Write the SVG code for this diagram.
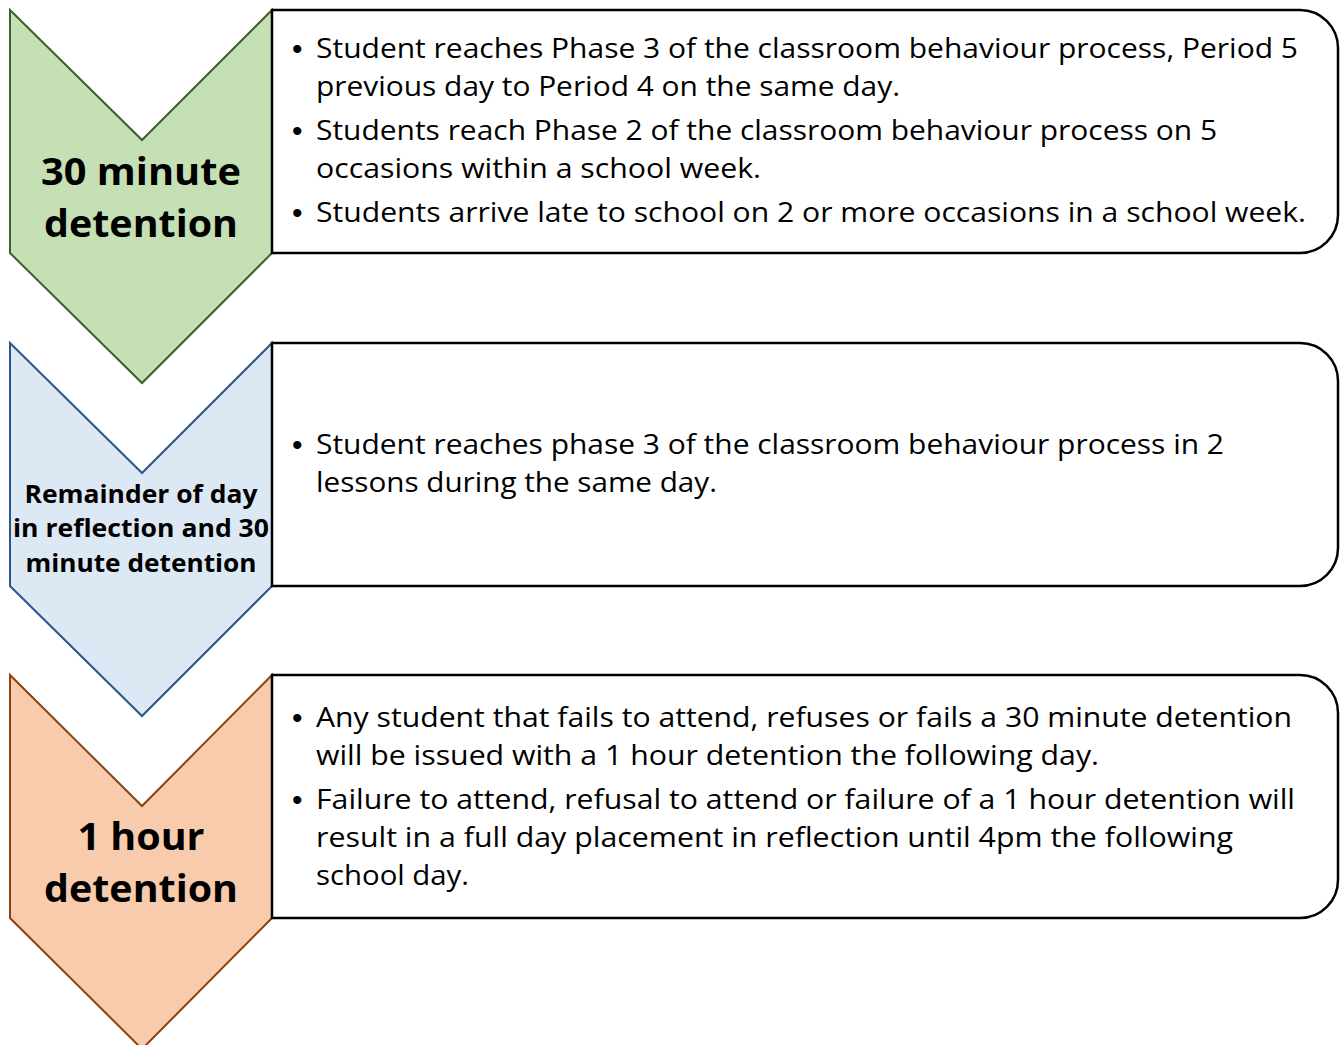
<svg xmlns="http://www.w3.org/2000/svg" width="1343" height="1045" viewBox="0 0 1343 1045">
<style>
.box{fill:#ffffff;stroke:#000000;stroke-width:2.5}
.chev{stroke-width:2}
.g{fill:#c5e0b4;stroke:#3f5f28}
.b{fill:#dde8f5;stroke:#2a5788}
.o{fill:#f8cbad;stroke:#8a420f}
.t{font-family:"Open Sans","Liberation Sans",sans-serif;font-size:27px;fill:#000}
.bu{font-family:"Liberation Sans",sans-serif;font-size:30px;fill:#000}
.h{font-family:"Open Sans","Liberation Sans",sans-serif;font-weight:bold;fill:#000;text-anchor:middle}
</style>
<rect width="1343" height="1045" fill="#ffffff"/>
<g id="node-30min">
<path class="chev g" d="M10,10 L142,140 L272,10 L272,253 L142,383 L10,253 Z"/>
<path class="box" d="M272,10 H1300 A38,38 0 0 1 1338,48 V215 A38,38 0 0 1 1300,253 H272 Z"/>
<text class="h" font-size="38" x="141" y="185" textLength="200" lengthAdjust="spacingAndGlyphs">30 minute</text>
<text class="h" font-size="38" x="141" y="237" textLength="194" lengthAdjust="spacingAndGlyphs">detention</text>
<text class="bu" x="292" y="59">•</text>
<text class="t" x="316" y="58" textLength="982" lengthAdjust="spacingAndGlyphs">Student reaches Phase 3 of the classroom behaviour process, Period 5</text>
<text class="t" x="316" y="96" textLength="584" lengthAdjust="spacingAndGlyphs">previous day to Period 4 on the same day.</text>
<text class="bu" x="292" y="141">•</text>
<text class="t" x="316" y="140" textLength="901" lengthAdjust="spacingAndGlyphs">Students reach Phase 2 of the classroom behaviour process on 5</text>
<text class="t" x="316" y="178" textLength="445" lengthAdjust="spacingAndGlyphs">occasions within a school week.</text>
<text class="bu" x="292" y="223">•</text>
<text class="t" x="316" y="222" textLength="990" lengthAdjust="spacingAndGlyphs">Students arrive late to school on 2 or more occasions in a school week.</text>
</g>
<g id="node-remainder">
<path class="chev b" d="M10,343 L142,473 L272,343 L272,586 L142,716 L10,586 Z"/>
<path class="box" d="M272,343 H1300 A38,38 0 0 1 1338,381 V548 A38,38 0 0 1 1300,586 H272 Z"/>
<text class="h" font-size="25" x="141" y="503" textLength="233" lengthAdjust="spacingAndGlyphs">Remainder of day</text>
<text class="h" font-size="25" x="141" y="537" textLength="256" lengthAdjust="spacingAndGlyphs">in reflection and 30</text>
<text class="h" font-size="25" x="141" y="572" textLength="231" lengthAdjust="spacingAndGlyphs">minute detention</text>
<text class="bu" x="292" y="455">•</text>
<text class="t" x="316" y="454" textLength="908" lengthAdjust="spacingAndGlyphs">Student reaches phase 3 of the classroom behaviour process in 2</text>
<text class="t" x="316" y="492" textLength="401" lengthAdjust="spacingAndGlyphs">lessons during the same day.</text>
</g>
<g id="node-1hour">
<path class="chev o" d="M10,675 L142,806 L272,675 L272,918 L142,1049 L10,918 Z"/>
<path class="box" d="M272,675 H1300 A38,38 0 0 1 1338,713 V880 A38,38 0 0 1 1300,918 H272 Z"/>
<text class="h" font-size="38" x="141" y="850" textLength="127" lengthAdjust="spacingAndGlyphs">1 hour</text>
<text class="h" font-size="38" x="141" y="902" textLength="194" lengthAdjust="spacingAndGlyphs">detention</text>
<text class="bu" x="292" y="728">•</text>
<text class="t" x="316" y="727" textLength="976" lengthAdjust="spacingAndGlyphs">Any student that fails to attend, refuses or fails a 30 minute detention</text>
<text class="t" x="316" y="765" textLength="783" lengthAdjust="spacingAndGlyphs">will be issued with a 1 hour detention the following day.</text>
<text class="bu" x="292" y="810">•</text>
<text class="t" x="316" y="809" textLength="979" lengthAdjust="spacingAndGlyphs">Failure to attend, refusal to attend or failure of a 1 hour detention will</text>
<text class="t" x="316" y="847" textLength="917" lengthAdjust="spacingAndGlyphs">result in a full day placement in reflection until 4pm the following</text>
<text class="t" x="316" y="885" textLength="153" lengthAdjust="spacingAndGlyphs">school day.</text>
</g>
<g id="connectors"></g>
</svg>
